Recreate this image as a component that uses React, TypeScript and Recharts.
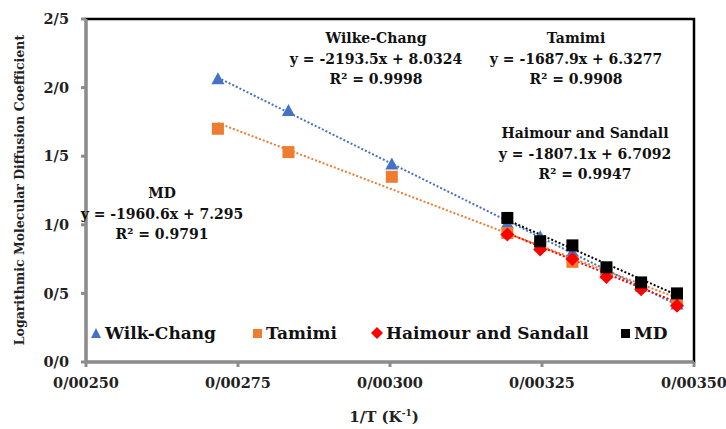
import React from "react";
import { ComposedChart, Scatter, Line, XAxis, YAxis, ReferenceArea } from "recharts";

// 1/T values (K^-1) for the measured temperatures
const invTAll = [0.002717, 0.002833, 0.003003, 0.003193, 0.003247, 0.0033, 0.003356, 0.003413, 0.003472];
const invTLow = [0.003193, 0.003247, 0.0033, 0.003356, 0.003413, 0.003472];

const wilkeChang = [2.06, 1.83, 1.44, 1.01, 0.91, 0.8, 0.67, 0.55, 0.42];
const tamimi = [1.7, 1.53, 1.35, 0.94, 0.85, 0.73, 0.65, 0.56, 0.45];
const haimour = [0.93, 0.82, 0.75, 0.62, 0.53, 0.41];
const md = [1.05, 0.88, 0.85, 0.69, 0.58, 0.5];

// printed trendline equations: [slope, intercept, R²]
const fitWilke = [-2193.5, 8.0324, 0.9998];
const fitTamimi = [-1687.9, 6.3277, 0.9908];
const fitHaimour = [-1807.1, 6.7092, 0.9947];
const fitMd = [-1960.6, 7.295, 0.9791];

const xTicks = [0.0025, 0.00275, 0.003, 0.00325, 0.0035];
const yTicks = [0, 0.5, 1, 1.5, 2, 2.5];

const FONT = "'DejaVu Serif', serif";
const BLUE = "#4472C4";
const ORANGE = "#ED7D31";
const RED = "#FF0000";
const BLACK = "#000000";

const pts = (xs: number[], ys: number[]) => xs.map((x, i) => ({ x, y: ys[i] }));
const trend = (xs: number[], fit: number[]) => {
  const lo = Math.min(...xs);
  const hi = Math.max(...xs);
  return [lo, hi].map((x) => ({ x, y: fit[0] * x + fit[1] }));
};

const triangle = (color: string) => (p: any) => (
  <path d={`M${p.cx},${p.cy - 7}L${p.cx + 6.5},${p.cy + 5}L${p.cx - 6.5},${p.cy + 5}Z`} fill={color} />
);
const square = (color: string) => (p: any) => (
  <rect x={p.cx - 6} y={p.cy - 6} width={12} height={12} fill={color} />
);
const diamond = (color: string) => (p: any) => (
  <path d={`M${p.cx},${p.cy - 7}L${p.cx + 7},${p.cy}L${p.cx},${p.cy + 7}L${p.cx - 7},${p.cy}Z`} fill={color} />
);

const legendItems = [
  { name: "Wilk-Chang", color: BLUE, kind: "tri", left: 90 },
  { name: "Tamimi", color: ORANGE, kind: "sq", left: 251 },
  { name: "Haimour and Sandall", color: RED, kind: "dia", left: 371 },
  { name: "MD", color: BLACK, kind: "sq", left: 619 },
];

function LegendIcon({ kind, color }: { kind: string; color: string }) {
  return (
    <svg width={13} height={12} style={{ marginRight: 2 }}>
      {kind === "tri" && <path d="M6,1L11,11L1,11Z" fill={color} />}
      {kind === "sq" && <rect x={2} y={2} width={9} height={9} fill={color} />}
      {kind === "dia" && <path d="M6,0L12,6L6,12L0,6Z" fill={color} />}
    </svg>
  );
}

function Note({ title, fit, cx, top }: { title: string; fit: number[]; cx: number; top: number }) {
  const eq = `y = ${fit[0]}x + ${fit[1]}`;
  return (
    <div
      style={{
        position: "absolute",
        left: cx - 150,
        top,
        width: 300,
        textAlign: "center",
        fontFamily: FONT,
        fontWeight: "bold",
        fontSize: 14,
        lineHeight: "20.5px",
        color: "#111",
        pointerEvents: "none",
      }}
    >
      <div>{title}</div>
      <div>{eq}</div>
      <div>R² = {fit[2]}</div>
    </div>
  );
}

const tickStyle = { fontFamily: FONT, fontWeight: "bold", fontSize: 14.5, fill: "#222" };

export default function App() {
  return (
    <div style={{ position: "absolute", left: 0, top: 0, width: 726, height: 429, background: "#fff" }}>
      <ComposedChart width={726} height={429} margin={{ top: 19, right: 32, bottom: 0, left: 0 }}>
        <ReferenceArea x1={0.0025} x2={0.0035} y1={0} y2={2.5} fill="none" stroke={BLACK} strokeWidth={2.5} ifOverflow="visible" />
        <XAxis
          type="number"
          dataKey="x"
          domain={[0.0025, 0.0035]}
          ticks={xTicks}
          allowDataOverflow
          height={67}
          stroke="#8c8c8c"
          strokeWidth={3}
          tickSize={5}
          tickMargin={11}
          tick={tickStyle}
          tickFormatter={(v: number) => v.toFixed(5).replace(".", "/")}
        />
        <YAxis
          type="number"
          dataKey="y"
          domain={[0, 2.5]}
          ticks={yTicks}
          width={86}
          stroke="#8c8c8c"
          strokeWidth={3}
          tickSize={5}
          tickMargin={12}
          tick={tickStyle}
          tickFormatter={(v: number) => v.toFixed(1).replace(".", "/")}
        />

        <Line data={trend(invTAll, fitWilke)} dataKey="y" stroke={BLUE} strokeWidth={2} strokeDasharray="2 2" dot={false} activeDot={false} isAnimationActive={false} />
        <Line data={trend(invTAll, fitTamimi)} dataKey="y" stroke={ORANGE} strokeWidth={2} strokeDasharray="2 2" dot={false} activeDot={false} isAnimationActive={false} />
        <Line data={trend(invTLow, fitHaimour)} dataKey="y" stroke={RED} strokeWidth={2} strokeDasharray="2 2" dot={false} activeDot={false} isAnimationActive={false} />
        <Line data={trend(invTLow, fitMd)} dataKey="y" stroke={BLACK} strokeWidth={2} strokeDasharray="2 2" dot={false} activeDot={false} isAnimationActive={false} />

        <Scatter name="Wilk-Chang" data={pts(invTAll, wilkeChang)} dataKey="y" fill={BLUE} shape={triangle(BLUE)} isAnimationActive={false} />
        <Scatter name="Tamimi" data={pts(invTAll, tamimi)} dataKey="y" fill={ORANGE} shape={square(ORANGE)} isAnimationActive={false} />
        <Scatter name="Haimour and Sandall" data={pts(invTLow, haimour)} dataKey="y" fill={RED} shape={diamond(RED)} isAnimationActive={false} />
        <Scatter name="MD" data={pts(invTLow, md)} dataKey="y" fill={BLACK} shape={square(BLACK)} isAnimationActive={false} />
      </ComposedChart>

      {legendItems.map((it) => (
        <div
          key={it.name}
          style={{
            position: "absolute",
            left: it.left,
            top: 322,
            display: "flex",
            alignItems: "center",
            fontFamily: FONT,
            fontWeight: "bold",
            fontSize: 17,
            lineHeight: "22px",
            color: "#111",
          }}
        >
          <LegendIcon kind={it.kind} color={it.color} />
          <span>{it.name}</span>
        </div>
      ))}

      <Note title="Wilke-Chang" fit={fitWilke} cx={376} top={28} />
      <Note title="Tamimi" fit={fitTamimi} cx={576} top={28} />
      <Note title="Haimour and Sandall" fit={fitHaimour} cx={585} top={123} />
      <Note title="MD" fit={fitMd} cx={162} top={183} />

      <div
        style={{
          position: "absolute",
          left: 20 - 200,
          top: 190 - 8,
          width: 400,
          textAlign: "center",
          transform: "rotate(-90deg)",
          fontFamily: FONT,
          fontWeight: "bold",
          fontSize: 12.5,
          lineHeight: "16px",
          color: "#222",
        }}
      >
        Logarithmic Molecular Diffusion Coefficient
      </div>
      <div style={{ position: "absolute", left: 284, top: 408, width: 200, textAlign: "center", fontFamily: FONT, fontWeight: "bold", fontSize: 15, color: "#222" }}>
        1/T (K<sup style={{ fontSize: 9 }}>-1</sup>)
      </div>
    </div>
  );
}
